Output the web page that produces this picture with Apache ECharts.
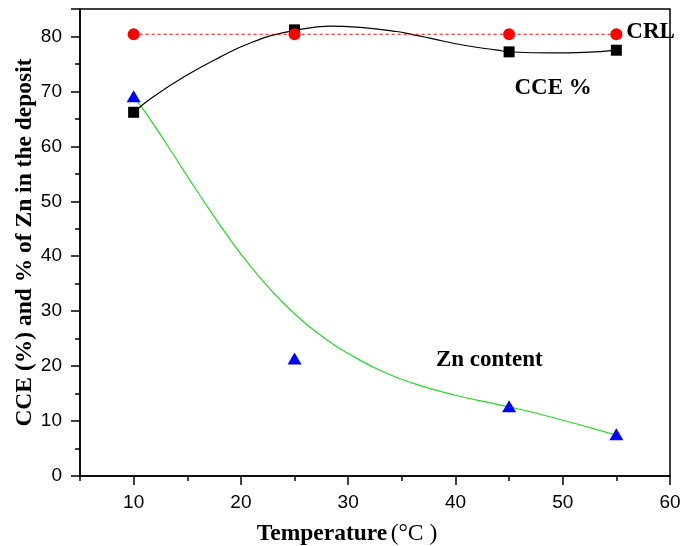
<!DOCTYPE html>
<html>
<head>
<meta charset="utf-8">
<script src="https://cdn.jsdelivr.net/npm/echarts@6/dist/echarts.min.js"></script>
<style>
  html, body { margin: 0; padding: 0; background: #fff; }
  #chart { width: 682px; height: 546px; }
</style>
</head>
<body>
<div id="chart"></div>
<script>
// Bath temperature (°C) for each deposition run
const temps = [10, 25, 45, 55];
// Current recovery limit, CCE and Zn content at each temperature
const crl = [80.4, 80.4, 80.4, 80.4];
const cce = [66.2, 81.2, 77.2, 77.5];
const znContent = [69.1, 21.4, 12.7, 7.6];

// Smoothed trend through the CCE values
const cceCurveX = [10, 11.8, 14.9, 18.0, 21.1, 24.2, 27.4, 28.3, 31.4, 34.5, 36.1, 37.6, 40.8, 43.9, 45.1, 48.9, 52.0, 55];
const cceCurveY = [66.2, 69.0, 72.9, 76.2, 79.0, 80.8, 81.8, 81.9, 81.6, 80.9, 80.3, 79.7, 78.4, 77.5, 77.2, 77.0, 77.1, 77.5];

// Fitted decay of the Zn content
const znCurveX = [10.4, 12, 14, 16, 18, 20, 22, 24, 26, 28, 30, 33, 36, 40, 44, 48, 55];
const znCurveY = [68.1, 63.6, 57.6, 51.6, 45.8, 40.4, 35.6, 31.4, 27.8, 24.8, 22.3, 19.2, 16.9, 14.7, 13.0, 11.2, 7.45];

// Axis ticks
const xMajorTicks = [10, 20, 30, 40, 50, 60];
const xMinorTicks = [5, 15, 25, 35, 45, 55];

const pairs = (xs, ys) => xs.map((x, i) => [x, ys[i]]);

const serif = 'Liberation Serif';
const sans = 'Liberation Sans';

const chart = echarts.init(document.getElementById('chart'), null, { renderer: 'canvas' });

chart.setOption({
  backgroundColor: '#fff',
  animation: false,
  grid: {
    left: 80, right: 12, top: 9, bottom: 70,
    outerBoundsMode: 'none',
    containLabel: false,
    show: true, borderColor: '#000', borderWidth: 1.5
  },
  xAxis: [
    {
      type: 'value', min: 5, max: 60,
      axisLine: { show: true, lineStyle: { color: '#000', width: 1.5 } },
      axisTick: { show: true, customValues: xMajorTicks, length: 9, lineStyle: { color: '#000', width: 1.5 } },
      axisLabel: { customValues: xMajorTicks, color: '#000', fontFamily: sans, fontSize: 19, margin: 17 },
      splitLine: { show: false },
      name: '{b|Temperature} {n|(°C )}',
      nameLocation: 'middle',
      nameGap: 46,
      nameTextStyle: {
        padding: [0, 56, 0, 0],
        rich: {
          b: { fontFamily: serif, fontWeight: 'bold', fontSize: 23.5, color: '#000' },
          n: { fontFamily: serif, fontWeight: 'normal', fontSize: 23.5, color: '#000' }
        }
      }
    },
    {
      type: 'value', min: 5, max: 60, position: 'bottom',
      axisLine: { show: false },
      axisTick: { show: true, customValues: xMinorTicks, length: 5, lineStyle: { color: '#000', width: 1.5 } },
      axisLabel: { show: false },
      splitLine: { show: false }
    }
  ],
  yAxis: {
    type: 'value', min: 0, max: 85, interval: 10,
    axisLine: { show: true, lineStyle: { color: '#000', width: 1.5 } },
    axisTick: { show: true, length: 9, lineStyle: { color: '#000', width: 1.5 } },
    minorTick: { show: true, splitNumber: 2, length: 5, lineStyle: { color: '#000', width: 1.5 } },
    axisLabel: { color: '#000', fontFamily: sans, fontSize: 19, margin: 18, showMaxLabel: false },
    splitLine: { show: false },
    name: 'CCE (%) and % of Zn in the deposit',
    nameLocation: 'middle',
    nameGap: 43,
    nameMoveOverlap: false,
    nameTextStyle: { fontFamily: serif, fontWeight: 'bold', fontSize: 23.5, color: '#000' }
  },
  series: [
    {
      name: 'Zn fit', type: 'line', data: pairs(znCurveX, znCurveY),
      smooth: 0.5, showSymbol: false, silent: true,
      lineStyle: { color: '#22dd22', width: 1.2 }, z: 2
    },
    {
      name: 'CCE fit', type: 'line', data: pairs(cceCurveX, cceCurveY),
      smooth: 0.5, showSymbol: false, silent: true,
      lineStyle: { color: '#000', width: 1.2 }, z: 2
    },
    {
      name: 'CCE', type: 'scatter', data: pairs(temps, cce),
      symbol: 'rect', symbolSize: 11,
      itemStyle: { color: '#000', opacity: 1 }, z: 3
    },
    {
      name: 'CRL', type: 'line', data: pairs(temps, crl),
      symbol: 'circle', symbolSize: 12, showAllSymbol: true,
      lineStyle: { color: '#ff0000', width: 1.2, type: [3, 3] },
      itemStyle: { color: '#ff0000', opacity: 1 },
      label: {
        show: true,
        formatter: (p) => p.dataIndex === temps.length - 1 ? 'CRL' : '',
        position: 'right', distance: 4, offset: [0, -2],
        fontFamily: serif, fontWeight: 'bold', fontSize: 23, color: '#000'
      },
      z: 4
    },
    {
      name: 'Zn content', type: 'scatter', data: pairs(temps, znContent),
      symbol: 'triangle', symbolSize: [14, 12],
      itemStyle: { color: '#0000ff', opacity: 1 }, z: 5
    },
    {
      name: 'annotations', type: 'scatter', silent: true, symbolSize: 0,
      itemStyle: { opacity: 1 },
      data: [
        { value: [49.1, 70.6], label: { formatter: 'CCE %' } },
        { value: [43.15, 21.1], label: { formatter: 'Zn content' } }
      ],
      label: {
        show: true, position: 'inside',
        fontFamily: serif, fontWeight: 'bold', fontSize: 23, color: '#000'
      },
      z: 6
    }
  ]
});
</script>
</body>
</html>
